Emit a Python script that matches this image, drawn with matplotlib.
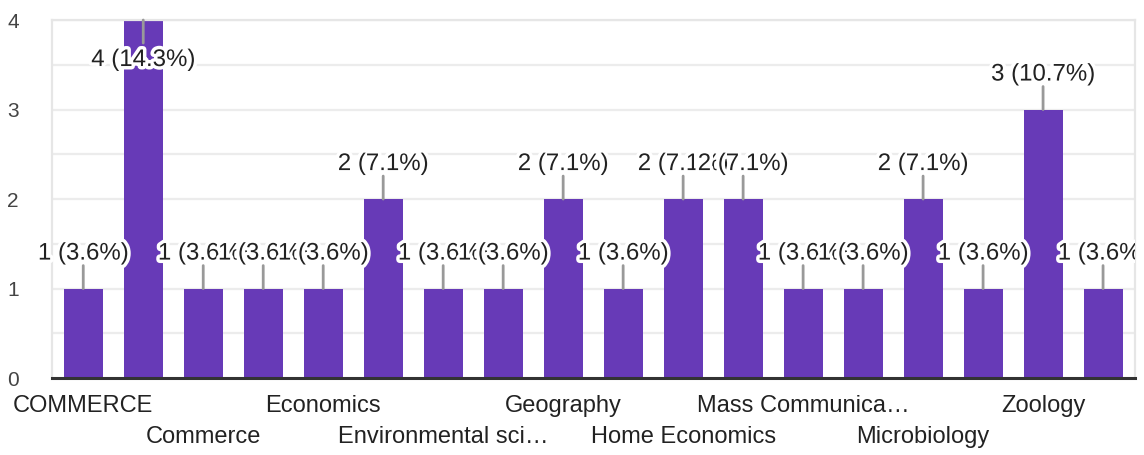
import matplotlib.pyplot as plt
import matplotlib.patheffects as pe
import matplotlib.transforms as mtransforms

plt.rcParams['font.family'] = ['Liberation Sans', 'DejaVu Sans']

# response counts per subject (every other category name is shown on the axis)
counts = [1, 4, 1, 1, 1, 2, 1, 1, 2, 1, 2, 2, 1, 1, 2, 1, 3, 1]
shown_labels = ["COMMERCE", "Commerce", "Economics", "Environmental sci\u2026",
                "Geography", "Home Economics", "Mass Communica\u2026",
                "Microbiology", "Zoology"]
shown_positions = [0, 2, 4, 6, 8, 10, 12, 14, 16]
y_ticks = [0, 1, 2, 3, 4]

total = sum(counts)
bar_color = "#673ab7"
text_color = "#222222"

fig = plt.figure(figsize=(11.44, 4.55), dpi=100)
ax = fig.add_axes([0.0455, 0.169, 0.9465, 0.787])

x = list(range(len(counts)))
ax.bar(x, counts, width=0.65, color=bar_color, zorder=2)

ax.set_xlim(-0.52, len(counts) - 0.47)
ax.set_ylim(0, 4)

# light grid every half unit
for g in [0.5 * i for i in range(1, 9)]:
    ax.axhline(g, color="#ececec", lw=1.6, zorder=0)

ax.set_yticks(y_ticks)
ax.set_yticklabels([str(t) for t in y_ticks], fontsize=15, color="#444444")
ax.tick_params(axis="y", length=0, pad=24)
ax.set_xticks([])

for side in ["top", "right", "left"]:
    ax.spines[side].set_color("#e6e6e6")
    ax.spines[side].set_linewidth(1.6)
ax.spines["bottom"].set_color("#333333")
ax.spines["bottom"].set_linewidth(2.2)
ax.spines["bottom"].set_zorder(5)

# category names in two staggered rows
trans = mtransforms.blended_transform_factory(ax.transData, ax.transAxes)
for i, (pos, name) in enumerate(zip(shown_positions, shown_labels)):
    offset = -28 if i % 2 == 0 else -59
    ax.annotate(name, xy=(pos, 0), xycoords=trans, xytext=(0, offset * 0.72),
                textcoords="offset points", ha="center", va="center",
                fontsize=17, color=text_color, annotation_clip=False)

# value labels are cut at the right edge of the chart area
label_clip = mtransforms.TransformedBbox(
    mtransforms.Bbox([[0, 0], [0.9925, 1]]), fig.transFigure)

# value labels with a short stem
halo = [pe.withStroke(linewidth=5, foreground="white")]
for i, v in enumerate(counts):
    label = f"{v} ({v / total * 100:.1f}%)"
    if v >= 4:
        stem, txt = -23, -40
    else:
        stem, txt = 23, 35
    ax.annotate("", xy=(i, v), xytext=(0, stem * 0.72), textcoords="offset points",
                arrowprops=dict(arrowstyle="-", color="#999999", lw=2,
                                shrinkA=0, shrinkB=0), zorder=3 + i, annotation_clip=False)
    t = ax.annotate(label, xy=(i, v), xytext=(0, txt * 0.72), textcoords="offset points",
                    ha="center", va="center", fontsize=17.3, color=text_color,
                    path_effects=halo, zorder=3 + i, annotation_clip=False)
    t.set_clip_on(True)
    t.set_clip_box(label_clip)

fig.savefig("out.png", dpi=100)
